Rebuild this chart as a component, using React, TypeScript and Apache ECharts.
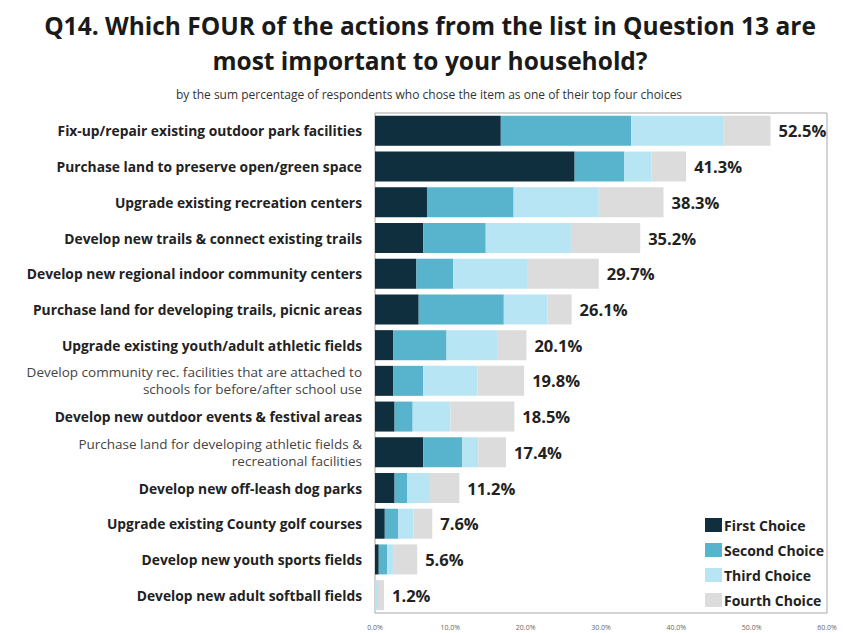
import React, { useEffect, useRef } from "react";
import * as echarts from "echarts";

const categories = [
  "Fix-up/repair existing outdoor park facilities",
  "Purchase land to preserve open/green space",
  "Upgrade existing recreation centers",
  "Develop new trails & connect existing trails",
  "Develop new regional indoor community centers",
  "Purchase land for developing trails, picnic areas",
  "Upgrade existing youth/adult athletic fields",
  "Develop community rec. facilities that are attached to\nschools for before/after school use",
  "Develop new outdoor events & festival areas",
  "Purchase land for developing athletic fields &\nrecreational facilities",
  "Develop new off-leash dog parks",
  "Upgrade existing County golf courses",
  "Develop new youth sports fields",
  "Develop new adult softball fields",
];
const lightLabels = [7, 9];

const firstChoice = [16.7, 26.5, 6.9, 6.4, 5.5, 5.8, 2.4, 2.4, 2.6, 6.4, 2.6, 1.3, 0.5, 0];
const secondChoice = [17.3, 6.6, 11.5, 8.3, 4.9, 11.3, 7.1, 4.0, 2.4, 5.2, 1.7, 1.8, 1.1, 0];
const thirdChoice = [12.3, 3.6, 11.3, 11.3, 9.9, 5.8, 6.8, 7.2, 5.0, 2.1, 3.0, 2.0, 0.8, 0.4];
const fourthChoice = [6.2, 4.6, 8.6, 9.2, 9.4, 3.2, 3.8, 6.2, 8.5, 3.7, 3.9, 2.5, 3.2, 0.8];
const totals = [52.5, 41.3, 38.3, 35.2, 29.7, 26.1, 20.1, 19.8, 18.5, 17.4, 11.2, 7.6, 5.6, 1.2];

const seriesNames = ["First Choice", "Second Choice", "Third Choice", "Fourth Choice"];
const seriesColors = ["#0f2e3e", "#58b3cc", "#b8e5f3", "#dcdcdc"];
const xTicks = { min: 0, max: 60, interval: 10 };

const FONT = "'Open Sans', Lato, sans-serif";

export default function App() {
  const ref = useRef<HTMLDivElement>(null);
  useEffect(() => {
    if (!ref.current) return;
    const chart = echarts.init(ref.current, null, { renderer: "svg" });
    const datasets = [firstChoice, secondChoice, thirdChoice, fourthChoice];
    chart.setOption({
      animation: false,
      backgroundColor: "#ffffff",
      textStyle: { fontFamily: FONT },
      title: [
        {
          text: "Q14. Which FOUR of the actions from the list in Question 13 are\nmost important to your household?",
          left: 425,
          top: 3,
          textAlign: "center",
          textStyle: {
            fontFamily: FONT,
            fontSize: 24.5,
            fontWeight: "bold",
            color: "#1a1a1a",
            lineHeight: 35,
          },
        },
        {
          text: "by the sum percentage of respondents who chose the item as one of their top four choices",
          left: 424,
          top: 83,
          textAlign: "center",
          textStyle: { fontFamily: FONT, fontSize: 12, fontWeight: "normal", color: "#333" },
        },
      ],
      legend: {
        orient: "vertical",
        left: 700,
        top: 513,
        itemWidth: 17,
        itemHeight: 14,
        itemGap: 11,
        icon: "rect",
        data: seriesNames,
        textStyle: { fontFamily: FONT, fontSize: 14, fontWeight: "bold", color: "#222", padding: [0, 0, 0, -3] },
      },
      grid: {
        left: 375,
        right: 16,
        top: 113,
        bottom: 20,
        show: true,
        borderColor: "#a8a8a8",
        borderWidth: 1,
        backgroundColor: "transparent",
      },
      xAxis: {
        type: "value",
        min: xTicks.min,
        max: xTicks.max,
        interval: xTicks.interval,
        axisLine: { show: false },
        axisTick: { show: false },
        splitLine: { show: false },
        axisLabel: {
          formatter: (v: number) => v.toFixed(1) + "%",
          fontSize: 7,
          color: "#666",
          margin: 11,
          fontFamily: FONT,
        },
      },
      yAxis: {
        type: "category",
        inverse: true,
        data: categories,
        axisLine: { show: false },
        axisTick: { show: false },
        axisLabel: {
          margin: 13,
          formatter: (val: string, idx: number) =>
            lightLabels.includes(idx)
              ? val.split("\n").map((l) => `{l|${l}}`).join("\n")
              : `{b|${val}}`,
          rich: {
            b: { fontFamily: FONT, fontSize: 13.8, fontWeight: "bold", color: "#222", align: "right" },
            l: { fontFamily: FONT, fontSize: 13.5, fontWeight: "normal", color: "#444", lineHeight: 17, align: "right" },
          },
        },
      },
      series: datasets.map((d, i) => ({
        name: seriesNames[i],
        type: "bar",
        stack: "total",
        data: d,
        barWidth: 30,
        itemStyle: { color: seriesColors[i] },
        label:
          i === 3
            ? {
                show: true,
                position: "right",
                distance: 8,
                formatter: (p: any) => totals[p.dataIndex].toFixed(1) + "%",
                fontFamily: FONT,
                fontSize: 16.5,
                fontWeight: "bold",
                color: "#222",
              }
            : { show: false },
      })),
    });
    return () => chart.dispose();
  }, []);
  return (
    <div
      ref={ref}
      style={{ position: "fixed", left: 0, top: 0, width: 843, height: 633 }}
    />
  );
}
